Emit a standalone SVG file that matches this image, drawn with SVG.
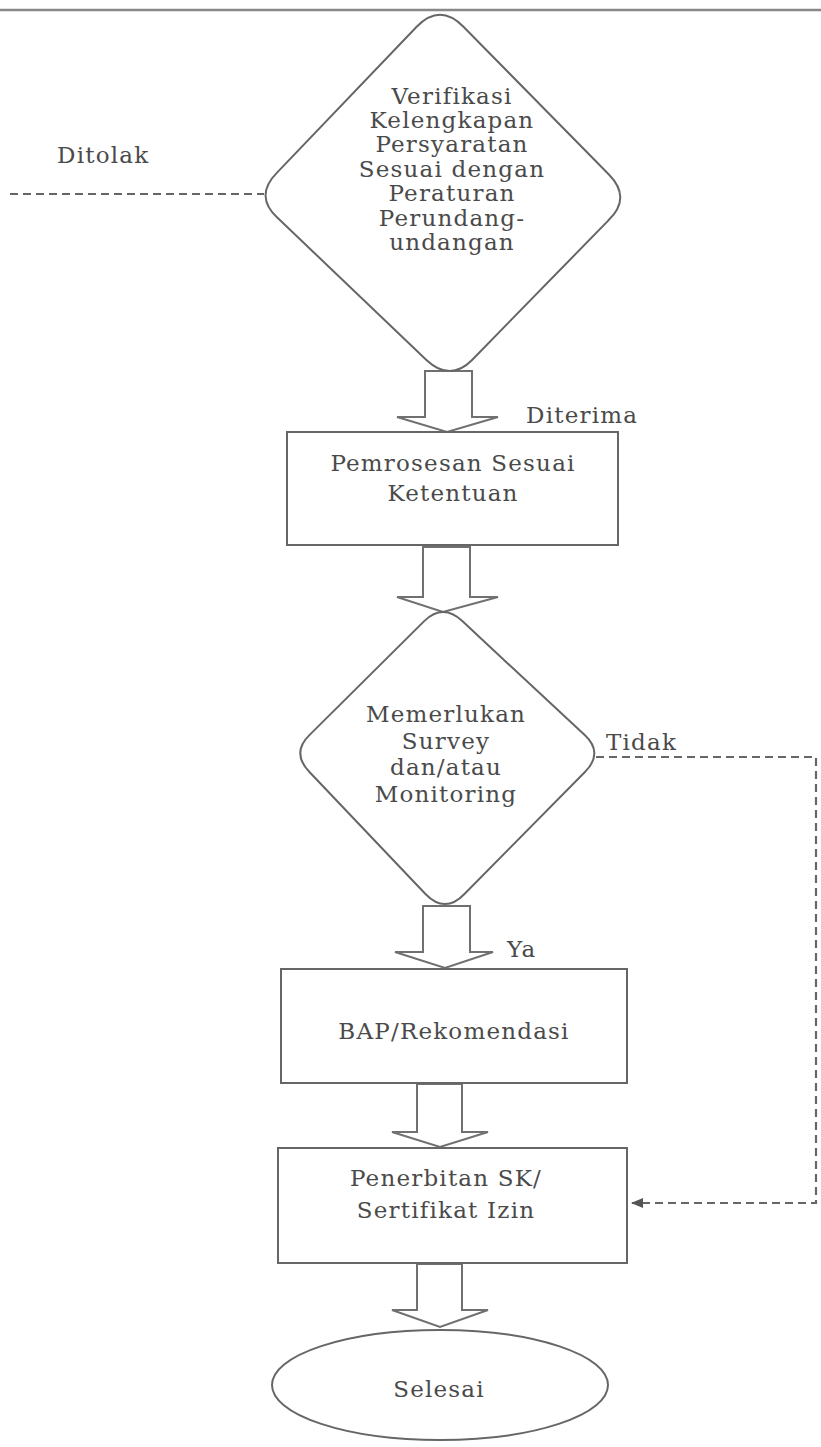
<svg xmlns="http://www.w3.org/2000/svg" width="821" height="1447" viewBox="0 0 821 1447">
<defs>
<style>
.shape{fill:#fff;stroke:#666;stroke-width:2}
.barrow{fill:#fff;stroke:#707070;stroke-width:2;stroke-linejoin:miter}
.dash{fill:none;stroke:#666;stroke-width:2.2;stroke-dasharray:8 5}
.t{font-family:"DejaVu Serif","Liberation Serif",serif;font-size:23px;fill:#4a4a4a;text-anchor:middle;letter-spacing:1.2px}
.lbl{font-family:"DejaVu Serif","Liberation Serif",serif;font-size:23px;fill:#4a4a4a;letter-spacing:1.2px}
</style>
<marker id="ah" markerWidth="12" markerHeight="10" refX="11" refY="5" orient="auto" markerUnits="userSpaceOnUse">
<path d="M0,0 L12,5 L0,10 Z" fill="#555"/>
</marker>
</defs>
<rect width="821" height="1447" fill="#fff"/>
<line x1="0" y1="10" x2="821" y2="10" stroke="#888" stroke-width="2.5"/>

<g id="connectors">
<path class="barrow" d="M425 371 H472 V417 H498 L447 432 L397 417 H425 Z"/>
<path class="barrow" d="M423 547 H470 V597 H498 L443 612 L397 597 H423 Z"/>
<path class="barrow" d="M423 906 H470 V952 H493 L445 968 L395 952 H423 Z"/>
<path class="barrow" d="M417 1084 H462 V1132 H488 L440 1147 L392 1132 H417 Z"/>
<path class="barrow" d="M417 1264 H462 V1310 H488 L440 1327 L392 1310 H417 Z"/>
<path class="dash" d="M10 194 H264"/>
<path class="dash" d="M596 757 H816 V1203 H632" marker-end="url(#ah)"/>
<text class="lbl" x="57" y="163">Ditolak</text>
<text class="lbl" x="526" y="423">Diterima</text>
<text class="lbl" x="606" y="750">Tidak</text>
<text class="lbl" x="507" y="957">Ya</text>
</g>

<g id="n1">
<path class="shape" d="M463.2 26.5 L608.9 174.5 Q632 198 608.2 220.6 L471.8 360.2 Q450 382 426.4 359.9 L277.5 217.8 Q254 196 276.8 172.9 L416.9 26.5 Q440 3 463.2 26.5 Z"/>
<text class="t" x="452" y="104">Verifikasi</text>
<text class="t" x="452" y="128">Kelengkapan</text>
<text class="t" x="452" y="152">Persyaratan</text>
<text class="t" x="452" y="177">Sesuai dengan</text>
<text class="t" x="452" y="201">Peraturan</text>
<text class="t" x="452" y="226">Perundang-</text>
<text class="t" x="452" y="250">undangan</text>
</g>

<g id="n2">
<rect class="shape" x="287" y="432" width="331" height="113"/>
<text class="t" x="453" y="471">Pemrosesan Sesuai</text>
<text class="t" x="453" y="501">Ketentuan</text>
</g>

<g id="n3">
<path class="shape" d="M462.3 621.1 L584.7 735.1 Q604 753 584.7 772.3 L464.2 894.2 Q445 914 425.7 894.2 L309.7 772.3 Q291 753 309.4 735.1 L424.2 621.1 Q443 603 462.3 621.1 Z"/>
<text class="t" x="446" y="722">Memerlukan</text>
<text class="t" x="446" y="749">Survey</text>
<text class="t" x="446" y="775">dan/atau</text>
<text class="t" x="446" y="802">Monitoring</text>
</g>

<g id="n4">
<rect class="shape" x="281" y="969" width="346" height="114"/>
<text class="t" x="454" y="1039">BAP/Rekomendasi</text>
</g>

<g id="n5">
<rect class="shape" x="278" y="1148" width="349" height="115"/>
<text class="t" x="446" y="1186">Penerbitan SK/</text>
<text class="t" x="446" y="1218">Sertifikat Izin</text>
</g>

<g id="n6">
<ellipse class="shape" cx="440" cy="1385" rx="168" ry="55"/>
<text class="t" x="439" y="1397">Selesai</text>
</g>
</svg>
